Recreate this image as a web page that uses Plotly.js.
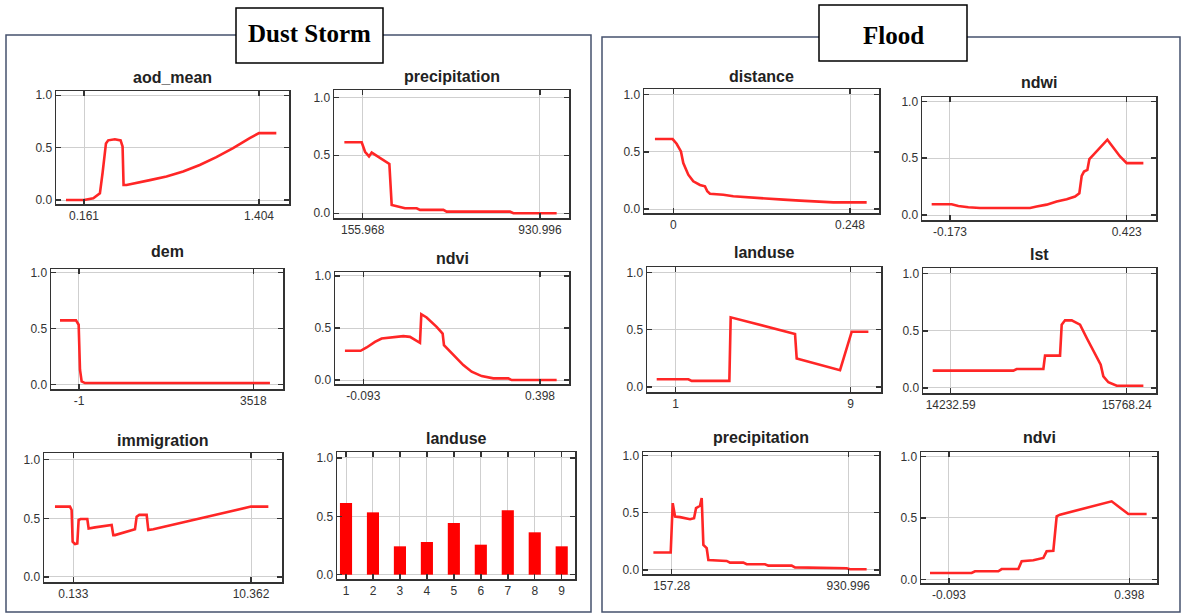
<!DOCTYPE html>
<html><head><meta charset="utf-8">
<script src="https://cdn.plot.ly/plotly-3.0.1.min.js"></script>
<style>html,body{margin:0;padding:0;background:#fff;}#chart{width:1184px;height:614px;}</style>
</head><body><div id="chart"></div>
<script>
// ---------- Dust Storm data ----------
const dsAodX = [0.033,0.161,0.227,0.274,0.293,0.317,0.333,0.380,0.421,0.435,0.442,0.463,0.629,0.747,0.865,0.983,1.101,1.220,1.338,1.404,1.527];
const dsAodY = [0,0,0.016,0.064,0.26,0.54,0.57,0.58,0.569,0.511,0.144,0.144,0.19,0.224,0.272,0.335,0.409,0.495,0.591,0.639,0.639];
const dsPrecX = [75.8,151.6,166.2,183.6,195.3,217.2,246.3,272.5,282.7,319.1,341.0,392.0,406.5,508.5,523.1,799.9,814.5,1003.8];
const dsPrecY = [0.612,0.612,0.53,0.49,0.523,0.494,0.46,0.425,0.072,0.057,0.043,0.043,0.029,0.029,0.014,0.014,0,0];
const dsDemX = [-384.5,-61.6,-7.7,19.2,52.8,120.1,3854];
const dsDemY = [0.573,0.573,0.534,0.134,0.03,0.015,0.015];
const dsNdviX = [-0.1440,-0.1004,-0.0837,-0.0606,-0.0421,-0.0189,-0.0050,0.0182,0.0367,0.0506,0.0645,0.0682,0.0830,0.1108,0.1275,0.1312,0.1571,0.1849,0.2081,0.2359,0.2683,0.3100,0.3193,0.4443];
const dsNdviY = [0.281,0.281,0.313,0.367,0.399,0.406,0.415,0.422,0.415,0.383,0.358,0.633,0.601,0.511,0.447,0.335,0.240,0.144,0.080,0.038,0.016,0.016,0,0];
const dsImmX = [-0.923,-0.059,0.037,0.095,0.229,0.363,0.440,0.555,0.939,1.016,1.380,2.340,2.436,2.532,3.683,3.779,3.933,4.355,4.451,4.739,10.362,11.36];
const dsImmY = [0.60,0.60,0.571,0.30,0.28,0.286,0.486,0.494,0.494,0.414,0.423,0.443,0.357,0.357,0.406,0.514,0.529,0.529,0.40,0.406,0.60,0.60];
const dsLanduseCats = [1,2,3,4,5,6,7,8,9];
const dsLanduseVals = [0.614,0.534,0.243,0.28,0.443,0.257,0.551,0.363,0.243];

// ---------- Flood data ----------
const flDistX = [-0.02574,-0.00094,0.00468,0.01076,0.01404,0.02106,0.02808,0.03743,0.04445,0.04772,0.05147,0.07019,0.08423,0.10294,0.13102,0.15441,0.17781,0.20121,0.22460,0.27139];
const flDistY = [0.612,0.612,0.571,0.504,0.402,0.30,0.242,0.210,0.198,0.155,0.134,0.125,0.111,0.102,0.090,0.082,0.073,0.067,0.058,0.058];
const flNdwiX = [-0.2348,-0.1674,-0.1449,-0.1112,-0.0718,0.0969,0.1194,0.1531,0.1868,0.2206,0.2487,0.2633,0.2712,0.2790,0.2903,0.2970,0.3105,0.3578,0.4005,0.4230,0.4792];
const flNdwiY = [0.094,0.094,0.079,0.068,0.062,0.062,0.074,0.091,0.118,0.138,0.162,0.191,0.344,0.382,0.397,0.491,0.529,0.662,0.515,0.456,0.456];
const flLanduseX = [0.131,1.579,1.731,3.453,3.514,6.455,6.531,8.512,9.046,9.808];
const flLanduseY = [0.067,0.067,0.053,0.053,0.608,0.462,0.249,0.146,0.482,0.482];
const flLstX = [14075.5,14779.4,14808.5,15041.1,15055.7,15186.5,15201.1,15230.2,15288.3,15361.0,15419.2,15477.4,15541.4,15564.6,15608.3,15681.0,15913.7];
const flLstY = [0.152,0.152,0.166,0.166,0.283,0.283,0.554,0.592,0.592,0.554,0.437,0.321,0.204,0.102,0.050,0.020,0.020];
const flPrecX = [76.99,152.9,161.7,171.9,193.8,237.6,255.1,263.9,281.4,288.7,296.0,310.6,317.9,398.2,412.8,471.1,485.7,566.0,580.6,682.8,697.4,923.7,938.3,1011.3];
const flPrecY = [0.152,0.152,0.583,0.466,0.461,0.443,0.452,0.539,0.560,0.627,0.219,0.190,0.087,0.079,0.064,0.064,0.050,0.050,0.038,0.038,0.023,0.015,0.006,0.006];
const flNdviX = [-0.1447,-0.0313,-0.0222,0.0413,0.0504,0.0958,0.1049,0.1366,0.1638,0.1729,0.1911,0.2002,0.2092,0.2637,0.3499,0.3953,0.4452];
const flNdviY = [0.054,0.054,0.068,0.068,0.086,0.086,0.149,0.157,0.176,0.230,0.235,0.514,0.527,0.568,0.635,0.532,0.532];

// ---------- tick labels ----------
const yTickVals = [0, 0.5, 1];
const yTickText = ['0.0', '0.5', '1.0'];
const tickAod = [0.161, 1.404], tickAodTxt = ['0.161', '1.404'];
const tickDsPrec = [155.968, 930.996], tickDsPrecTxt = ['155.968', '930.996'];
const tickDem = [-1, 3518], tickDemTxt = ['-1', '3518'];
const tickNdvi = [-0.093, 0.398], tickNdviTxt = ['-0.093', '0.398'];
const tickImm = [0.133, 10.362], tickImmTxt = ['0.133', '10.362'];
const tickLanduseTxt = ['1','2','3','4','5','6','7','8','9'];
const tickDist = [0, 0.248], tickDistTxt = ['0', '0.248'];
const tickNdwi = [-0.173, 0.423], tickNdwiTxt = ['-0.173', '0.423'];
const tickFlLand = [1, 9], tickFlLandTxt = ['1', '9'];
const tickLst = [14232.59, 15768.24], tickLstTxt = ['14232.59', '15768.24'];
const tickFlPrec = [157.28, 930.996], tickFlPrecTxt = ['157.28', '930.996'];

const W = 1184, H = 614;
// subplot specs: box = [left, top, right, bottom] in px
const specs = [
  {t:'aod_mean', x:dsAodX, y:dsAodY, xr:[-0.0379,1.6171], yr:[-0.038,1.041], tv:tickAod, tt:tickAodTxt, box:[56,91,289,204], ty:77},
  {t:'precipitation', x:dsPrecX, y:dsPrecY, xr:[30.5,1057.8], yr:[-0.041,1.063], tv:tickDsPrec, tt:tickDsPrecTxt, box:[334,90,569,218], ty:76},
  {t:'dem', x:dsDemX, y:dsDemY, xr:[-566,4117.6], yr:[-0.038,1.030], tv:tickDem, tt:tickDemTxt, box:[51,269,283,389], ty:252},
  {t:'ndvi', x:dsNdviX, y:dsNdviY, xr:[-0.1716,0.4786], yr:[-0.038,1.038], tv:tickNdvi, tt:tickNdviTxt, box:[335,272,569,384], ty:258},
  {t:'immigration', x:dsImmX, y:dsImmY, xr:[-1.5536,12.146], yr:[-0.043,1.057], tv:tickImm, tt:tickImmTxt, box:[44,453,282,582], ty:440},
  {t:'landuse', bar:true, x:dsLanduseCats, y:dsLanduseVals, xr:[0.666,9.493], yr:[-0.037,1.051], tv:dsLanduseCats, tt:tickLanduseTxt, box:[337,452,575,579], ty:438},
  {t:'distance', x:flDistX, y:flDistY, xr:[-0.0411,0.2887], yr:[-0.035,1.05], tv:tickDist, tt:tickDistTxt, box:[644,89,879,213], ty:76},
  {t:'ndwi', x:flNdwiX, y:flNdwiY, xr:[-0.2674,0.5218], yr:[-0.044,1.038], tv:tickNdwi, tt:tickNdwiTxt, box:[922,97,1156,220], ty:82},
  {t:'landuse', x:flLanduseX, y:flLanduseY, xr:[-0.312,10.385], yr:[-0.044,1.047], tv:tickFlLand, tt:tickFlLandTxt, box:[647,267,881,392], ty:253},
  {t:'lst', x:flLstX, y:flLstY, xr:[13990.9,16023.9], yr:[-0.044,1.05], tv:tickLst, tt:tickLstTxt, box:[923,268,1156,393], ty:255},
  {t:'precipitation', x:flPrecX, y:flPrecY, xr:[31.5,1065.5], yr:[-0.035,1.029], tv:tickFlPrec, tt:tickFlPrecTxt, box:[643,452,879,574], ty:437},
  {t:'ndvi', x:flNdviX, y:flNdviY, xr:[-0.1692,0.4734], yr:[-0.027,1.035], tv:tickNdvi, tt:tickNdviTxt, box:[921,452,1157,583], ty:437}
];

const px = v => v / W;
const py = v => 1 - v / H;
const tickFont = {family:'Liberation Sans, Arial, sans-serif', size:12, color:'#333'};
const traces = [];
const layout = {
  width:W, height:H, margin:{l:0,r:0,t:0,b:0},
  paper_bgcolor:'#fff', plot_bgcolor:'#fff', showlegend:false,
  annotations:[], shapes:[]
};

specs.forEach((s, i) => {
  const k = i === 0 ? '' : String(i + 1);
  const tr = {x:s.x, y:s.y, xaxis:'x'+k, yaxis:'y'+k, hoverinfo:'skip'};
  if (s.bar) { Object.assign(tr, {type:'bar', width:0.45, marker:{color:'#ff0000', line:{width:0}}}); }
  else { Object.assign(tr, {type:'scatter', mode:'lines', line:{color:'#ff2626', width:2.6}}); }
  traces.push(tr);
  const common = {showline:true, linecolor:'#333', linewidth:1.5, mirror:'ticks', ticks:'inside', ticklen:5, tickwidth:1.5, tickcolor:'#333',
    showgrid:true, gridcolor:'#cfcfcf', gridwidth:1, zeroline:false, tickfont:tickFont, fixedrange:true};
  layout['xaxis'+k] = Object.assign({}, common, {domain:[px(s.box[0]), px(s.box[2])], range:s.xr, anchor:'y'+k,
    tickmode:'array', tickvals:s.tv, ticktext:s.tt});
  layout['yaxis'+k] = Object.assign({}, common, {domain:[py(s.box[3]), py(s.box[1])], range:s.yr, anchor:'x'+k,
    tickmode:'array', tickvals:yTickVals, ticktext:yTickText});
  layout.annotations.push({xref:'paper', yref:'paper', x:px((s.box[0]+s.box[2])/2), y:py(s.ty), xanchor:'center', yanchor:'middle',
    text:'<b>'+s.t+'</b>', showarrow:false, font:{family:'Liberation Sans, Arial, sans-serif', size:16, color:'#222'}});
});

// panel frames and title boxes
const panelCol = '#46526e';
layout.shapes.push({type:'rect', xref:'paper', yref:'paper', x0:px(6), x1:px(591), y0:py(612), y1:py(35), line:{color:panelCol, width:1.5}, fillcolor:'rgba(0,0,0,0)', layer:'below'});
layout.shapes.push({type:'rect', xref:'paper', yref:'paper', x0:px(602), x1:px(1180), y0:py(612), y1:py(37), line:{color:panelCol, width:1.5}, fillcolor:'rgba(0,0,0,0)', layer:'below'});
layout.shapes.push({type:'rect', xref:'paper', yref:'paper', x0:px(236), x1:px(383), y0:py(63), y1:py(8), line:{color:'#000', width:1.5}, fillcolor:'#fff', layer:'above'});
layout.shapes.push({type:'rect', xref:'paper', yref:'paper', x0:px(819), x1:px(967), y0:py(61), y1:py(5), line:{color:'#000', width:1.5}, fillcolor:'#fff', layer:'above'});
layout.annotations.push({xref:'paper', yref:'paper', x:px(309.5), y:py(33), xanchor:'center', yanchor:'middle', text:'<b>Dust Storm</b>', showarrow:false,
  font:{family:'Liberation Serif, Times New Roman, serif', size:25, color:'#000'}});
layout.annotations.push({xref:'paper', yref:'paper', x:px(893), y:py(35), xanchor:'center', yanchor:'middle', text:'<b>Flood</b>', showarrow:false,
  font:{family:'Liberation Serif, Times New Roman, serif', size:25, color:'#000'}});

Plotly.newPlot('chart', traces, layout, {staticPlot:true, displayModeBar:false});
</script>
</body></html>
